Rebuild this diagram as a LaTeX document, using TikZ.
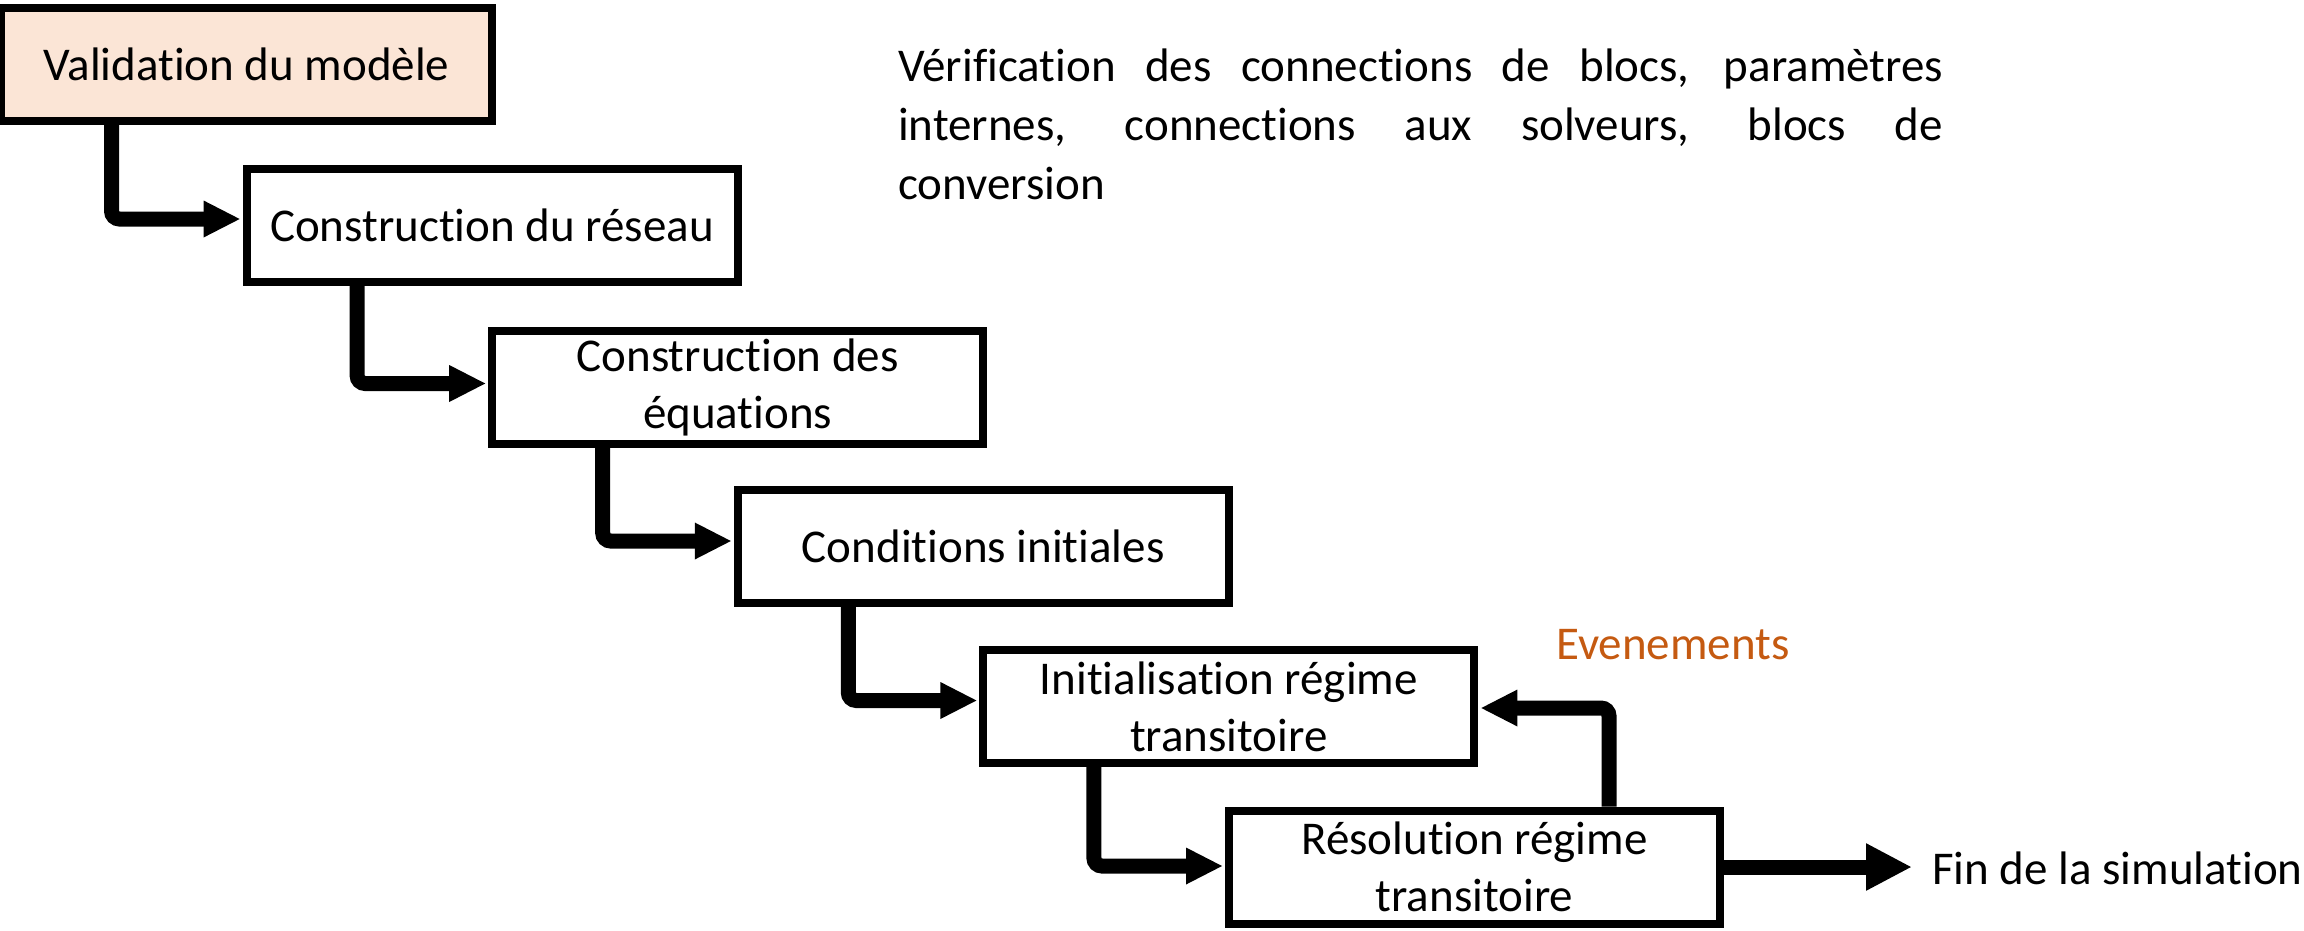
\documentclass[tikz,border=0pt]{standalone}
\usepackage{fontspec}
\setmainfont{Carlito}[Ligatures={NoCommon,NoContextual,NoRare},Contextuals={NoAlternate}]
\usetikzlibrary{arrows.meta,calc}
\definecolor{peach}{HTML}{FBE5D6}
\definecolor{evtorange}{HTML}{C55A11}
\tikzset{
  stage/.style={draw=black, fill=white, line width=8pt, minimum width=491pt,
    minimum height=113pt, inner sep=0pt, align=center,
    font=\fontsize{47}{57}\selectfont},
  conn/.style={line width=15pt, rounded corners=8pt,
    -{Triangle[length=37pt,width=34pt]}, shorten >=2pt},
  exitconn/.style={line width=15pt, -{Triangle[length=46pt,width=44pt]}},
  plaintext/.style={font=\fontsize{47}{57}\selectfont, inner sep=0pt}
}
\begin{document}
\begin{tikzpicture}[x=1pt,y=-1pt]
\useasboundingbox (0,0) rectangle (2304,930);

% simulation stages, stepping down to the right
\node[stage, fill=peach] (s1) at (246.5,64.5) {Validation du modèle};
\node[stage] (s2) at (492.1,225) {Construction du réseau};
\node[stage] (s3) at (737.7,387) {Construction des\\équations};
\node[stage] (s4) at (983.3,546) {Conditions initiales};
\node[stage] (s5) at (1228.9,706.5) {Initialisation régime\\transitoire};
\node[stage] (s6) at (1474.5,867) {Résolution régime\\transitoire};

% description of the validation step
\node[plaintext, anchor=base west] (p1) at (898,81.5)
  {\makebox[1045pt][s]{Vérification des connections de blocs, paramètres}};
\node[plaintext, anchor=base west] (p2) at (898,140.3)
  {\makebox[1045pt][s]{internes, connections aux solveurs, blocs de}};
\node[plaintext, anchor=base west] (p3) at (898,199.1) {conversion};

% event loop label and end of simulation
\node[plaintext, anchor=base west, text=evtorange] (evt) at (1556,659) {Evenements};
\node[plaintext, anchor=base west] (fin) at (1932,884) {Fin de la simulation};
\coordinate (exitend) at (1912,867);

% connectors between stages
\draw[conn] ($(s1.south)+(-135,0)$) |- ($(s2.west)+(0,-6)$);
\draw[conn] ($(s2.south)+(-135,0)$) |- ($(s3.west)+(0,-3.5)$);
\draw[conn] ($(s3.south)+(-135,0)$) |- ($(s4.west)+(0,-5)$);
\draw[conn] ($(s4.south)+(-135,0)$) |- ($(s5.west)+(0,-6)$);
\draw[conn] ($(s5.south)+(-135,0)$) |- ($(s6.west)+(0,-1)$);

% event feedback loop
\draw[conn] ($(s6.north)+(134.5,0)$) |- ($(s5.east)+(0,1.5)$);

% exit
\draw[exitconn] (s6.east) -- (exitend);
\end{tikzpicture}
\end{document}
